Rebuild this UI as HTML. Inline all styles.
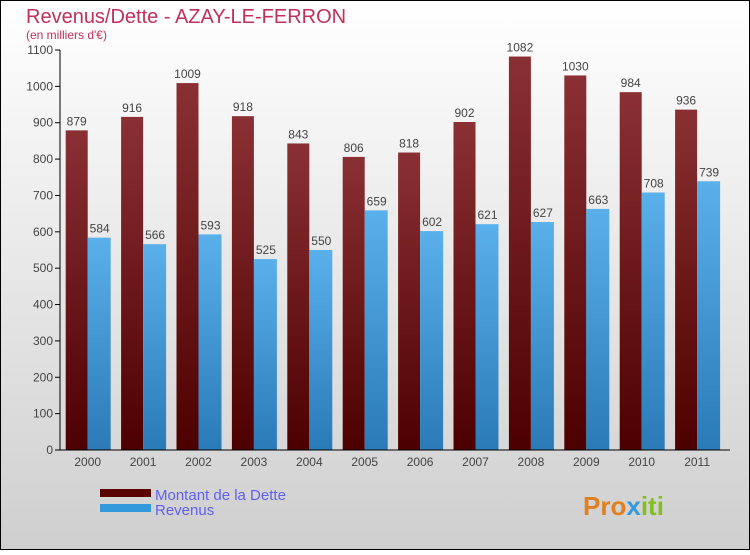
<!DOCTYPE html>
<html><head><meta charset="utf-8"><style>
html,body{margin:0;padding:0}
body{width:750px;height:550px;overflow:hidden;font-family:"Liberation Sans",sans-serif}
</style></head><body>
<svg id="chart" width="750" height="550" xmlns="http://www.w3.org/2000/svg">
<defs>
<linearGradient id="bg" x1="0" y1="0" x2="0" y2="1"><stop offset="0" stop-color="#ffffff"/><stop offset="1" stop-color="#cfcfcf"/></linearGradient>
<linearGradient id="gd" x1="0" y1="0" x2="0" y2="1"><stop offset="0" stop-color="#8a3034"/><stop offset="1" stop-color="#4d0000"/></linearGradient>
<linearGradient id="gr" x1="0" y1="0" x2="0" y2="1"><stop offset="0" stop-color="#5ab0ea"/><stop offset="1" stop-color="#2a7ab8"/></linearGradient>
</defs>
<rect x="0.5" y="0.5" width="749" height="549" fill="url(#bg)" stroke="#000"/>
<text x="26" y="23" font-size="20" fill="#c0305a">Revenus/Dette - AZAY-LE-FERRON</text>
<text x="26" y="39" font-size="12" fill="#c0305a">(en milliers d'€)</text>
<g id="plot"></g>
<rect x="100" y="489" width="51" height="8" fill="#5a0000"/>
<text x="155" y="500" font-size="15" fill="#6060f0">Montant de la Dette</text>
<rect x="100" y="504" width="51" height="8" fill="#3399dd"/>
<text x="155" y="515" font-size="15" fill="#6060f0">Revenus</text>
<text x="583" y="515" font-size="26" font-weight="bold" fill="#e08020">Pro<tspan fill="#3399dd">x</tspan><tspan fill="#80c020">iti</tspan></text>
</svg>
<script>
const years=["2000","2001","2002","2003","2004","2005","2006","2007","2008","2009","2010","2011"];
const dette=[879,916,1009,918,843,806,818,902,1082,1030,984,936];
const revenus=[584,566,593,525,550,659,602,621,627,663,708,739];
const ticks=[0,100,200,300,400,500,600,700,800,900,1000,1100];
const NS="http://www.w3.org/2000/svg";
const X0=60,BW=55.4,Y0=450,YT=50,YMAX=1100;
const y=v=>Y0-(v/YMAX)*(Y0-YT);
const xc=i=>X0+BW*(i+0.5);
const g=document.getElementById('plot');
function mk(t,a,txt){const e=document.createElementNS(NS,t);for(const k in a)e.setAttribute(k,a[k]);if(txt!==undefined)e.textContent=txt;g.appendChild(e);return e;}
ticks.forEach(t=>{
 const l=mk('line',{x1:55,x2:60,y1:y(t),y2:y(t),stroke:'#000'});
 
 
 const tx=mk('text',{x:53,y:y(t)+4,'font-size':12,fill:'#444','text-anchor':'end'},t);
 
 
});
years.forEach((yr,i)=>{
 const c=xc(i);
 const b1=mk('rect',{x:c-22,y:y(dette[i]),width:22,height:Y0-y(dette[i]),fill:'url(#gd)'});
 
 
 const b2=mk('rect',{x:c,y:y(revenus[i]),width:23,height:Y0-y(revenus[i]),fill:'url(#gr)'});
 
 
 const l1=mk('text',{x:c-11,y:y(dette[i])-5,'font-size':12,fill:'#444','text-anchor':'middle'},dette[i]);
 
 
 const l2=mk('text',{x:c+12,y:y(revenus[i])-5,'font-size':12,fill:'#444','text-anchor':'middle'},revenus[i]);
 
 
 const xl=mk('text',{x:c,y:466,'font-size':12,fill:'#444','text-anchor':'middle'},yr);
 
 
});
const ya=mk('line',{x1:60,x2:60,y1:YT,y2:Y0,stroke:'#000'});


const xa=mk('line',{x1:60,x2:730,y1:Y0,y2:Y0,stroke:'#000'});


</script>
</body></html>
